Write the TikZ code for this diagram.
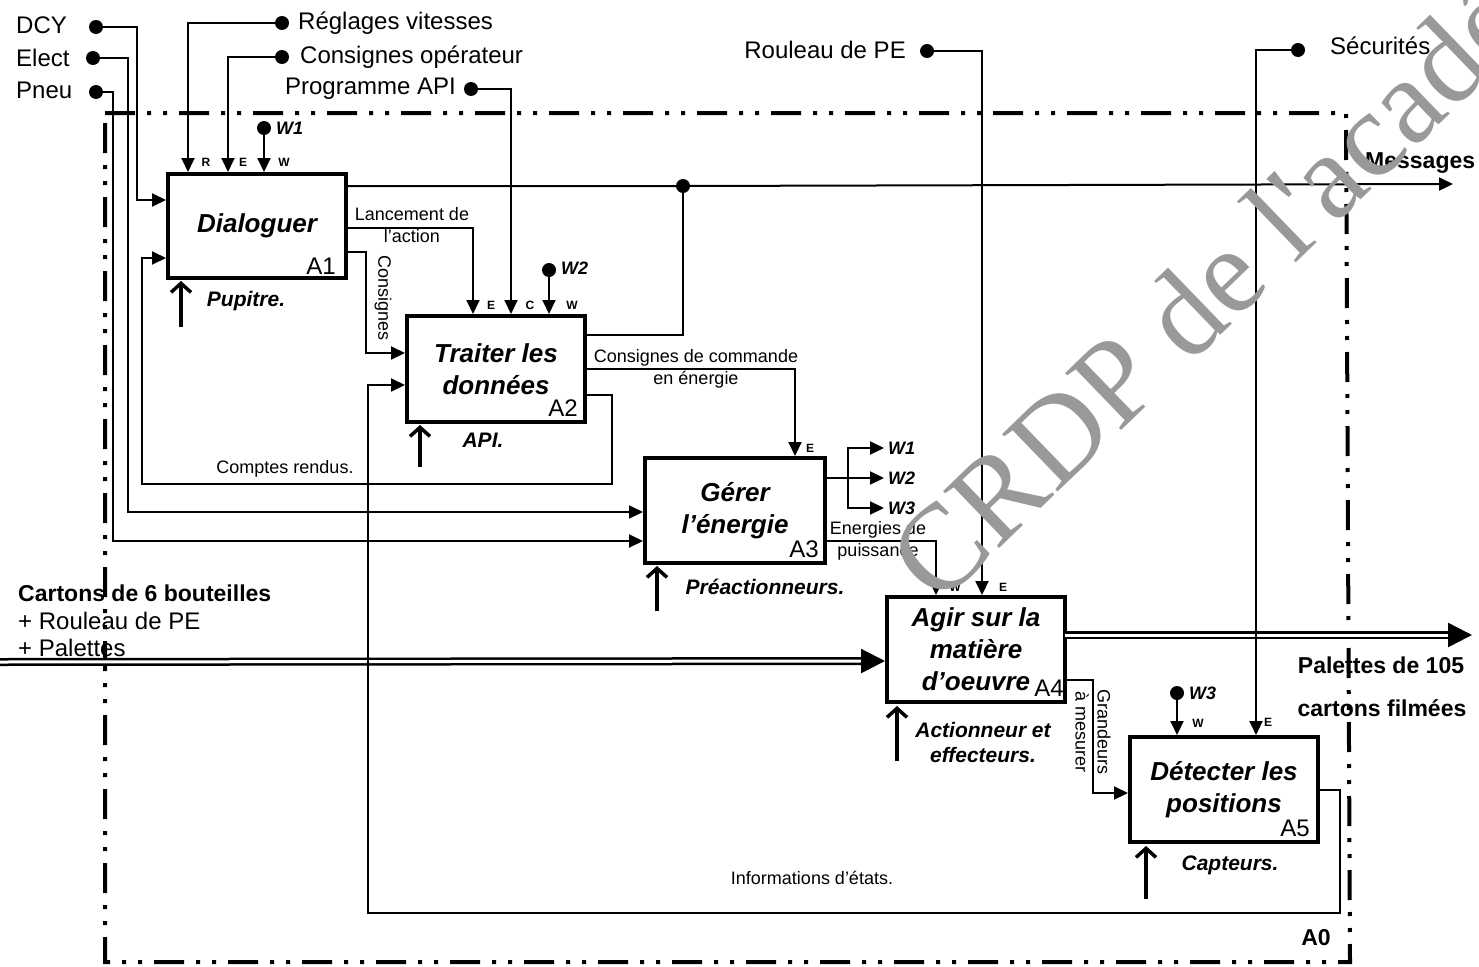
\documentclass[tikz,border=0pt]{standalone}
\usepackage{fontspec}
\setmainfont{Liberation Sans}
\newfontfamily\wmfont{Liberation Serif}
\usetikzlibrary{arrows.meta}
\begin{document}
\begin{tikzpicture}[x=1pt,y=-1pt,
 conn/.style={line width=2pt},
 arr/.style={conn,-{Triangle[length=14pt,width=13pt]}},
 mecha/.style={line width=3.5pt,-{Straight Barb[length=9pt,width=20pt,line width=3.5pt]}},
 box/.style={draw,line width=4.5pt,inner sep=0pt,align=center,font=\bfseries\itshape\fontsize{26}{32}\selectfont},
 dotn/.style={circle,fill,inner sep=0pt,minimum size=14pt},
 txt/.style={inner sep=0pt,font=\fontsize{24}{28}\selectfont},
 sm/.style={inner sep=0pt,font=\fontsize{18}{22}\selectfont,align=center},
 port/.style={inner sep=0pt,font=\bfseries\fontsize{12}{14}\selectfont},
 mlab/.style={inner sep=0pt,font=\bfseries\itshape\fontsize{21}{25}\selectfont,align=center},
 wlab/.style={inner sep=0pt,font=\bfseries\itshape\fontsize{18}{20}\selectfont},
 blab/.style={inner sep=0pt,font=\bfseries\fontsize{23}{27}\selectfont},
 frame/.style={line width=4pt,dash pattern=on 30pt off 12pt on 4pt off 12pt on 4pt off 12pt},
 mat/.style={double,double distance=3pt,line width=2.5pt,-{Triangle[length=24pt,width=24pt]}}
]
\useasboundingbox (0,0) rectangle (1479,966);

% frame A0
\draw[frame] (105,113) -- (1346,113) -- (1350,962) -- (105,962) -- cycle;
\node[blab] (A0n) at (1316,938) {A0};

% boxes
\node[box,minimum width=178pt,minimum height=104pt] (A1) at (257,226) {Dialoguer};
\node[box,minimum width=178pt,minimum height=106pt] (A2) at (496,369) {Traiter les\\donn\'ees};
\node[box,minimum width=180pt,minimum height=105pt] (A3) at (735,510.5) {G\'erer\\l’\'energie};
\node[box,minimum width=178pt,minimum height=105pt] (A4) at (976,649.5) {Agir sur la\\mati\`ere\\d’oeuvre};
\node[box,minimum width=188pt,minimum height=105pt] (A5) at (1224,789.5) {D\'etecter les\\positions};

\node[txt,anchor=base east] (A1n) at (336,274) {A1};
\node[txt,anchor=base east] (A2n) at (578,416) {A2};
\node[txt,anchor=base east] (A3n) at (819,557) {A3};
\node[txt,anchor=base east] (A4n) at (1064,696) {A4};
\node[txt,anchor=base east] (A5n) at (1310,836) {A5};

% port coordinates
\coordinate (A1i1) at (166,200);
\coordinate (A1i2) at (166,258);
\coordinate (A1tR) at (188,172);
\coordinate (A1tE) at (228,172);
\coordinate (A1tW) at (264,172);
\coordinate (A2i1) at (405,353);
\coordinate (A2i2) at (405,385);
\coordinate (A2tE) at (473,314);
\coordinate (A2tC) at (511,314);
\coordinate (A2tW) at (549,314);
\coordinate (A3i1) at (643,512);
\coordinate (A3i2) at (643,541);
\coordinate (A3tE) at (795,456);
\coordinate (A4i) at (885,661);
\coordinate (A4tW) at (936,595);
\coordinate (A4tE) at (982,595);
\coordinate (A5i) at (1128,793);
\coordinate (A5tW) at (1177,735);
\coordinate (A5tE) at (1256,735);
\coordinate (msg) at (1453,184);
\coordinate (pal) at (1472,635);
\coordinate (cartin) at (0,662);
\coordinate (w1o) at (884,448);
\coordinate (w2o) at (884,478);
\coordinate (w3o) at (884,508);

% external inputs (left)
\node[txt,anchor=west] (tDCY) at (16,25) {DCY};
\node[txt,anchor=west] (tElect) at (16,58) {Elect};
\node[txt,anchor=west] (tPneu) at (16,90) {Pneu};
\node[dotn] (dcy) at (96,27) {};
\node[dotn] (elect) at (93,58) {};
\node[dotn] (pneu) at (96,92) {};
\draw[arr] (dcy) -- (137,27) -- (137,200) -- (A1i1);
\draw[arr] (elect) -- (128,58) -- (128,512) -- (A3i1);
\draw[arr] (pneu) -- (113,92) -- (113,541) -- (A3i2);

% controls of A1
\node[dotn] (regl) at (282,23) {};
\node[txt,anchor=west] (tregl) at (298,23) {R\'eglages vitesses};
\node[dotn] (consop) at (282,57) {};
\node[txt,anchor=west] (tconsop) at (300,57) {Consignes op\'erateur};
\node[dotn] (w1) at (264,128) {};
\node[wlab,anchor=west] (tw1) at (276,128) {W1};
\draw[arr] (regl) -- (188,23) -- (A1tR);
\draw[arr] (consop) -- (228,57) -- (A1tE);
\draw[arr] (w1) -- (A1tW);
\node[port] (pR) at (206,162) {R};
\node[port] (pE1) at (243,162) {E};
\node[port] (pW1) at (284,162) {W};
\draw[mecha] (181,327) -- (181,281);
\node[mlab] (mA1) at (246,301) {Pupitre.};

% A1 outputs
\node[dotn] (junc) at (683,186) {};
\draw[conn,-{Triangle[length=14pt,width=13pt]}] (346,186) -- (junc) -- (msg);
\node[blab,anchor=west] (tmsg) at (1365,163) {Messages};
\draw[conn] (585,335) -- (683,335) -- (junc);
\draw[arr] (346,228) -- (473,228) -- (A2tE);
\node[sm] (tlanc) at (412,225) {Lancement de\\l’action};
\draw[arr] (346,252) -- (366,252) -- (366,353) -- (A2i1);
\node[sm,rotate=-90] (tcons) at (383,298) {Consignes};

% controls of A2
\node[dotn] (prog) at (471,89) {};
\node[txt,anchor=east] (tprog) at (456,89) {Programme API};
\draw[arr] (prog) -- (511,89) -- (A2tC);
\node[dotn] (w2) at (549,270) {};
\node[wlab,anchor=west] (tw2) at (561,268) {W2};
\draw[arr] (w2) -- (A2tW);
\node[port] (pE2) at (491,305) {E};
\node[port] (pC2) at (530,305) {C};
\node[port] (pW2) at (572,305) {W};
\draw[mecha] (420,467) -- (420,425);
\node[mlab] (mA2) at (483,440) {API.};

% A2 outputs
\draw[arr] (585,369) -- (795,369) -- (A3tE);
\node[sm] (tccmd) at (696,369) {Consignes de commande\\en \'energie};
\draw[arr] (585,395) -- (612,395) -- (612,484) -- (142,484) -- (142,258) -- (A1i2);
\node[sm] (tcr) at (285,469) {Comptes rendus.};
\node[port] (pE3) at (810,448) {E};

% A3
\draw[mecha] (657,611) -- (657,566);
\node[mlab] (mA3) at (765,587) {Pr\'eactionneurs.};
\draw[conn] (825,478) -- (848,478);
\draw[arr] (848,478) -- (w2o);
\draw[arr] (848,478) -- (848,448) -- (w1o);
\draw[arr] (848,478) -- (848,508) -- (w3o);
\node[wlab,anchor=west] (tw1b) at (888,448) {W1};
\node[wlab,anchor=west] (tw2b) at (888,478) {W2};
\node[wlab,anchor=west] (tw3b) at (888,508) {W3};
\draw[arr] (825,541) -- (936,541) -- (A4tW);
\node[sm] (tener) at (878,541) {Energies de\\puissance};

% Rouleau de PE
\node[dotn] (roul) at (927,51) {};
\node[txt,anchor=east] (troul) at (906,50) {Rouleau de PE};
\draw[arr] (roul) -- (982,51) -- (A4tE);
\node[port] (pW4) at (955,587) {W};
\node[port] (pE4) at (1003,587) {E};

% material flow
\draw[mat] (cartin) -- (A4i);
\node[blab,anchor=west] (tcart) at (18,593) {Cartons de 6 bouteilles};
\node[txt,anchor=west] (trou2) at (18,621) {+ Rouleau de PE};
\node[txt,anchor=west] (tpal) at (18,648) {+ Palettes};
\draw[mat] (1065,635) -- (pal);
\node[blab] (tpal1) at (1381,665) {Palettes de 105};
\node[blab] (tpal2) at (1382,708) {cartons film\'ees};

% A4
\draw[mecha] (897,761) -- (897,706);
\node[mlab] (mA4) at (983,742) {Actionneur et\\effecteurs.};
\draw[arr] (1065,680) -- (1093,680) -- (1093,793) -- (A5i);
\node[sm,rotate=-90] (tgrand) at (1093,732) {Grandeurs\\\`a mesurer};

% A5
\node[dotn] (secu) at (1298,50) {};
\node[txt,anchor=west] (tsecu) at (1330,46) {S\'ecurit\'es};
\draw[arr] (secu) -- (1256,50) -- (A5tE);
\node[dotn] (w3) at (1177,693) {};
\node[wlab,anchor=west] (tw3) at (1189,693) {W3};
\draw[arr] (w3) -- (A5tW);
\node[port] (pW5) at (1198,723) {W};
\node[port] (pE5) at (1268,722) {E};
\draw[mecha] (1146,899) -- (1146,846);
\node[mlab] (mA5) at (1230,865) {Capteurs.};
\draw[arr] (1318,790) -- (1340,790) -- (1340,913) -- (368,913) -- (368,385) -- (A2i2);
\node[sm] (tinfo) at (812,878) {Informations d’\'etats.};

% watermark
\begin{scope}
\clip (0,0) rectangle (1479,966);
\node[anchor=base west,rotate=44,text=black!40,inner sep=0pt,font=\wmfont\fontsize{122}{122}\selectfont] (wm) at (938,608) {CRDP de l'acad\'e};
\end{scope}
\end{tikzpicture}
\end{document}
